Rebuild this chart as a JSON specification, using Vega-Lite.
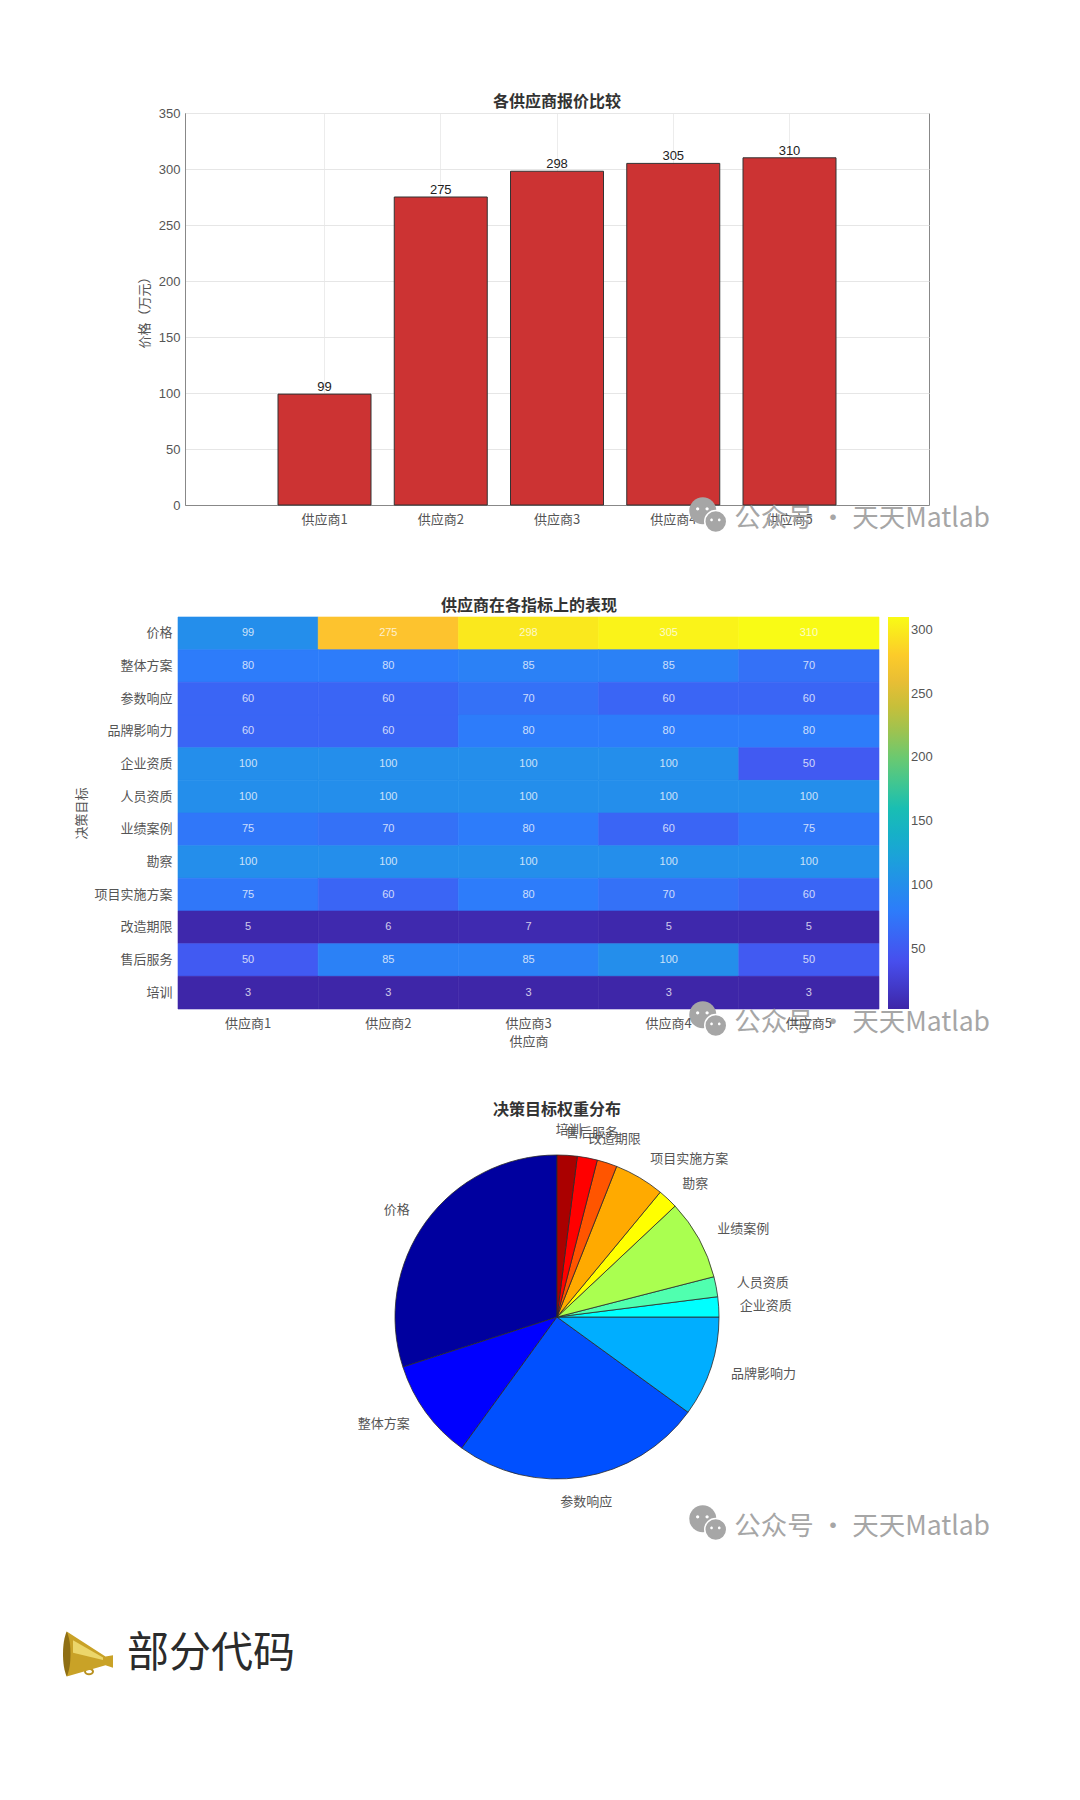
{
  "$schema": "https://vega.github.io/schema/vega-lite/v6.json",
  "background": "white",
  "autosize": {"type": "pad"},
  "padding": {"left": 63, "top": 93, "right": 0, "bottom": 20},
  "config": {
    "font": "Noto Sans CJK SC",
    "view": {"stroke": null},
    "title": {"fontSize": 16, "fontWeight": "bold", "color": "#333", "offset": 3, "anchor": "middle"},
    "axis": {"labelFontSize": 13, "labelColor": "#555", "titleFontSize": 13, "titleColor": "#555", "titleFontWeight": "normal", "tickColor": "#555", "domainColor": "#888"}
  },
  "datasets": {
    "quotes": [
      {"supplier": "供应商1", "price": 99},
      {"supplier": "供应商2", "price": 275},
      {"supplier": "供应商3", "price": 298},
      {"supplier": "供应商4", "price": 305},
      {"supplier": "供应商5", "price": 310}
    ],
    "scores": [
      {"goal": "价格", "supplier": "供应商1", "score": 99},
      {"goal": "价格", "supplier": "供应商2", "score": 275},
      {"goal": "价格", "supplier": "供应商3", "score": 298},
      {"goal": "价格", "supplier": "供应商4", "score": 305},
      {"goal": "价格", "supplier": "供应商5", "score": 310},
      {"goal": "整体方案", "supplier": "供应商1", "score": 80},
      {"goal": "整体方案", "supplier": "供应商2", "score": 80},
      {"goal": "整体方案", "supplier": "供应商3", "score": 85},
      {"goal": "整体方案", "supplier": "供应商4", "score": 85},
      {"goal": "整体方案", "supplier": "供应商5", "score": 70},
      {"goal": "参数响应", "supplier": "供应商1", "score": 60},
      {"goal": "参数响应", "supplier": "供应商2", "score": 60},
      {"goal": "参数响应", "supplier": "供应商3", "score": 70},
      {"goal": "参数响应", "supplier": "供应商4", "score": 60},
      {"goal": "参数响应", "supplier": "供应商5", "score": 60},
      {"goal": "品牌影响力", "supplier": "供应商1", "score": 60},
      {"goal": "品牌影响力", "supplier": "供应商2", "score": 60},
      {"goal": "品牌影响力", "supplier": "供应商3", "score": 80},
      {"goal": "品牌影响力", "supplier": "供应商4", "score": 80},
      {"goal": "品牌影响力", "supplier": "供应商5", "score": 80},
      {"goal": "企业资质", "supplier": "供应商1", "score": 100},
      {"goal": "企业资质", "supplier": "供应商2", "score": 100},
      {"goal": "企业资质", "supplier": "供应商3", "score": 100},
      {"goal": "企业资质", "supplier": "供应商4", "score": 100},
      {"goal": "企业资质", "supplier": "供应商5", "score": 50},
      {"goal": "人员资质", "supplier": "供应商1", "score": 100},
      {"goal": "人员资质", "supplier": "供应商2", "score": 100},
      {"goal": "人员资质", "supplier": "供应商3", "score": 100},
      {"goal": "人员资质", "supplier": "供应商4", "score": 100},
      {"goal": "人员资质", "supplier": "供应商5", "score": 100},
      {"goal": "业绩案例", "supplier": "供应商1", "score": 75},
      {"goal": "业绩案例", "supplier": "供应商2", "score": 70},
      {"goal": "业绩案例", "supplier": "供应商3", "score": 80},
      {"goal": "业绩案例", "supplier": "供应商4", "score": 60},
      {"goal": "业绩案例", "supplier": "供应商5", "score": 75},
      {"goal": "勘察", "supplier": "供应商1", "score": 100},
      {"goal": "勘察", "supplier": "供应商2", "score": 100},
      {"goal": "勘察", "supplier": "供应商3", "score": 100},
      {"goal": "勘察", "supplier": "供应商4", "score": 100},
      {"goal": "勘察", "supplier": "供应商5", "score": 100},
      {"goal": "项目实施方案", "supplier": "供应商1", "score": 75},
      {"goal": "项目实施方案", "supplier": "供应商2", "score": 60},
      {"goal": "项目实施方案", "supplier": "供应商3", "score": 80},
      {"goal": "项目实施方案", "supplier": "供应商4", "score": 70},
      {"goal": "项目实施方案", "supplier": "供应商5", "score": 60},
      {"goal": "改造期限", "supplier": "供应商1", "score": 5},
      {"goal": "改造期限", "supplier": "供应商2", "score": 6},
      {"goal": "改造期限", "supplier": "供应商3", "score": 7},
      {"goal": "改造期限", "supplier": "供应商4", "score": 5},
      {"goal": "改造期限", "supplier": "供应商5", "score": 5},
      {"goal": "售后服务", "supplier": "供应商1", "score": 50},
      {"goal": "售后服务", "supplier": "供应商2", "score": 85},
      {"goal": "售后服务", "supplier": "供应商3", "score": 85},
      {"goal": "售后服务", "supplier": "供应商4", "score": 100},
      {"goal": "售后服务", "supplier": "供应商5", "score": 50},
      {"goal": "培训", "supplier": "供应商1", "score": 3},
      {"goal": "培训", "supplier": "供应商2", "score": 3},
      {"goal": "培训", "supplier": "供应商3", "score": 3},
      {"goal": "培训", "supplier": "供应商4", "score": 3},
      {"goal": "培训", "supplier": "供应商5", "score": 3}
    ],
    "weights": [
      {"rank": 1, "goal": "价格", "weight": 30, "side": "left"},
      {"rank": 2, "goal": "整体方案", "weight": 10, "side": "left"},
      {"rank": 3, "goal": "参数响应", "weight": 25, "side": "center"},
      {"rank": 4, "goal": "品牌影响力", "weight": 10, "side": "right"},
      {"rank": 5, "goal": "企业资质", "weight": 2, "side": "right"},
      {"rank": 6, "goal": "人员资质", "weight": 2, "side": "right"},
      {"rank": 7, "goal": "业绩案例", "weight": 8, "side": "right"},
      {"rank": 8, "goal": "勘察", "weight": 2, "side": "right"},
      {"rank": 9, "goal": "项目实施方案", "weight": 5, "side": "right"},
      {"rank": 10, "goal": "改造期限", "weight": 2, "side": "center"},
      {"rank": 11, "goal": "售后服务", "weight": 2, "side": "center"},
      {"rank": 12, "goal": "培训", "weight": 2, "side": "center"}
    ],
    "mark": [{"label": "公众号 · 天天Matlab"}],
    "heading": [{"label": "部分代码"}]
  },
  "vconcat": [
    {
      "title": {"text": "各供应商报价比较", "offset": -3},
      "width": 744,
      "height": 392,
      "view": {"stroke": "#888"},
      "layer": [
        {
          "data": {"name": "quotes"},
          "encoding": {
            "x": {
              "field": "supplier", "type": "nominal", "title": null,
              "scale": {"paddingInner": 0.2, "paddingOuter": 0.8},
              "axis": {"labelAngle": 0, "grid": true, "gridColor": "#ececec", "tickSize": 0, "labelPadding": 8, "domain": true}
            },
            "y": {
              "field": "price", "type": "quantitative", "title": "价格（万元）",
              "scale": {"domain": [0, 350]},
              "axis": {"values": [0, 50, 100, 150, 200, 250, 300, 350], "grid": true, "gridColor": "#e6e6e6", "tickSize": 0, "labelPadding": 5, "titlePadding": 7, "labelFont": "Liberation Sans"}
            }
          },
          "layer": [
            {"mark": {"type": "bar", "color": "#cc3333", "stroke": "#333333", "strokeWidth": 1}},
            {
              "mark": {"type": "text", "baseline": "bottom", "dy": 0, "fontSize": 13, "color": "#222", "font": "Liberation Sans"},
              "encoding": {"text": {"field": "price", "type": "quantitative"}}
            }
          ]
        },
        {
          "data": {"name": "mark"},
          "layer": [
            {"mark": {"type": "circle", "color": "#a6a6a6", "size": 729, "opacity": 1},
             "encoding": {"x": {"datum": 559, "type": "quantitative", "scale": {"domain": [0, 741], "range": [0, 741]}, "axis": null}, "y": {"datum": 408, "type": "quantitative", "scale": {"domain": [0, 390], "range": [0, 390]}, "axis": null}}},
            {"mark": {"type": "point", "filled": true, "color": "white", "opacity": 1, "size": 729, "shape": "M-0.5,-0.15 a0.12,0.12 0 1,0 0.24,0 a0.12,0.12 0 1,0 -0.24,0 Z M0.2,-0.15 a0.12,0.12 0 1,0 0.24,0 a0.12,0.12 0 1,0 -0.24,0 Z"},
             "encoding": {"x": {"datum": 559, "type": "quantitative"}, "y": {"datum": 408, "type": "quantitative"}}},
            {"mark": {"type": "circle", "color": "#a6a6a6", "stroke": "white", "strokeWidth": 1.5, "size": 484, "opacity": 1},
             "encoding": {"x": {"datum": 573, "type": "quantitative"}, "y": {"datum": 419, "type": "quantitative"}}},
            {"mark": {"type": "point", "filled": true, "color": "white", "opacity": 1, "size": 484, "shape": "M-0.5,-0.15 a0.12,0.12 0 1,0 0.24,0 a0.12,0.12 0 1,0 -0.24,0 Z M0.2,-0.15 a0.12,0.12 0 1,0 0.24,0 a0.12,0.12 0 1,0 -0.24,0 Z"},
             "encoding": {"x": {"datum": 573, "type": "quantitative"}, "y": {"datum": 419, "type": "quantitative"}}},
            {"mark": {"type": "text", "align": "left", "fontSize": 26.5, "color": "#a6a6a6"},
             "encoding": {"x": {"datum": 593, "type": "quantitative"}, "y": {"datum": 416, "type": "quantitative"}, "text": {"field": "label", "type": "nominal"}}}
          ]
        }
      ],
      "resolve": {"scale": {"x": "independent", "y": "independent"}}
    },
    {
      "title": {"text": "供应商在各指标上的表现", "dx": -3},
      "width": 694,
      "height": 392,
      "layer": [
        {
          "data": {"name": "scores"},
          "encoding": {
            "x": {
              "field": "supplier", "type": "nominal", "title": "供应商",
              "scale": {"range": [-7, 694], "paddingInner": 0, "paddingOuter": 0},
              "axis": {"labelAngle": 0, "tickSize": 0, "domain": false, "labelPadding": 8, "titlePadding": 5}
            },
            "y": {
              "field": "goal", "type": "nominal", "title": "决策目标",
              "sort": ["价格", "整体方案", "参数响应", "品牌影响力", "企业资质", "人员资质", "业绩案例", "勘察", "项目实施方案", "改造期限", "售后服务", "培训"],
              "axis": {"offset": 7, "tickSize": 0, "domain": false, "labelPadding": 6, "titlePadding": 5}
            }
          },
          "layer": [
            {
              "mark": {"type": "rect", "strokeWidth": 0.6},
              "encoding": {
                "color": {
                  "field": "score", "type": "quantitative",
                  "scale": {
                    "interpolate": "rgb",
                    "domain": [3, 41.375, 79.75, 118.125, 156.5, 194.875, 233.25, 271.625, 310],
                    "range": ["#3e26a8", "#4750f0", "#2d7cfa", "#1c9fdd", "#12bdb9", "#5fcb78", "#bcbf3c", "#fdbe30", "#f9fb15"]
                  },
                  "legend": {
                    "title": null, "orient": "right", "offset": 9,
                    "gradientLength": 392, "gradientThickness": 21,
                    "values": [50, 100, 150, 200, 250, 300],
                    "labelFontSize": 13, "labelColor": "#555", "labelFont": "Liberation Sans"
                  }
                },
                "stroke": {
                  "field": "score", "type": "quantitative", "legend": null,
                  "scale": {
                    "interpolate": "rgb",
                    "domain": [3, 41.375, 79.75, 118.125, 156.5, 194.875, 233.25, 271.625, 310],
                    "range": ["#3e26a8", "#4750f0", "#2d7cfa", "#1c9fdd", "#12bdb9", "#5fcb78", "#bcbf3c", "#fdbe30", "#f9fb15"]
                  }
                }
              }
            },
            {
              "mark": {"type": "text", "fontSize": 11, "color": "white", "opacity": 0.75, "font": "Liberation Sans"},
              "encoding": {"text": {"field": "score", "type": "quantitative"}}
            }
          ]
        },
        {
          "data": {"name": "mark"},
          "layer": [
            {"mark": {"type": "circle", "color": "#a6a6a6", "size": 729, "opacity": 1},
             "encoding": {"x": {"datum": 559, "type": "quantitative", "scale": {"domain": [0, 741], "range": [0, 741]}, "axis": null}, "y": {"datum": 408, "type": "quantitative", "scale": {"domain": [0, 390], "range": [0, 390]}, "axis": null}}},
            {"mark": {"type": "point", "filled": true, "color": "white", "opacity": 1, "size": 729, "shape": "M-0.5,-0.15 a0.12,0.12 0 1,0 0.24,0 a0.12,0.12 0 1,0 -0.24,0 Z M0.2,-0.15 a0.12,0.12 0 1,0 0.24,0 a0.12,0.12 0 1,0 -0.24,0 Z"},
             "encoding": {"x": {"datum": 559, "type": "quantitative"}, "y": {"datum": 408, "type": "quantitative"}}},
            {"mark": {"type": "circle", "color": "#a6a6a6", "stroke": "white", "strokeWidth": 1.5, "size": 484, "opacity": 1},
             "encoding": {"x": {"datum": 573, "type": "quantitative"}, "y": {"datum": 419, "type": "quantitative"}}},
            {"mark": {"type": "point", "filled": true, "color": "white", "opacity": 1, "size": 484, "shape": "M-0.5,-0.15 a0.12,0.12 0 1,0 0.24,0 a0.12,0.12 0 1,0 -0.24,0 Z M0.2,-0.15 a0.12,0.12 0 1,0 0.24,0 a0.12,0.12 0 1,0 -0.24,0 Z"},
             "encoding": {"x": {"datum": 573, "type": "quantitative"}, "y": {"datum": 419, "type": "quantitative"}}},
            {"mark": {"type": "text", "align": "left", "fontSize": 26.5, "color": "#a6a6a6"},
             "encoding": {"x": {"datum": 593, "type": "quantitative"}, "y": {"datum": 416, "type": "quantitative"}, "text": {"field": "label", "type": "nominal"}}}
          ]
        }
      ],
      "resolve": {"scale": {"x": "independent", "y": "independent", "stroke": "independent"}}
    },
    {
      "title": "决策目标权重分布",
      "width": 744,
      "height": 392,
      "layer": [
        {
          "data": {"name": "weights"},
          "encoding": {
            "theta": {"field": "weight", "type": "quantitative", "stack": true, "scale": {"range": [6.2832, 0]}},
            "order": {"field": "rank", "type": "ordinal"},
            "detail": {"field": "goal", "type": "nominal"}
          },
          "layer": [
            {
              "mark": {"type": "arc", "radius": 162, "stroke": "#2a2a2a", "strokeWidth": 0.8},
              "encoding": {
                "color": {
                  "field": "goal", "type": "nominal", "legend": null,
                  "scale": {
                    "domain": ["价格", "整体方案", "参数响应", "品牌影响力", "企业资质", "人员资质", "业绩案例", "勘察", "项目实施方案", "改造期限", "售后服务", "培训"],
                    "range": ["#00009f", "#0000ff", "#0050ff", "#00aeff", "#00ffff", "#50ffaf", "#aaff50", "#ffff00", "#ffaa00", "#ff5500", "#ff0000", "#aa0000"]
                  }
                }
              }
            },
            {
              "mark": {"type": "text", "radius": 183, "align": "left", "fontSize": 13, "color": "#555"},
              "encoding": {"text": {"condition": {"test": "datum.side === 'right'", "field": "goal"}, "value": ""}}
            },
            {
              "mark": {"type": "text", "radius": 182, "align": "right", "fontSize": 13, "color": "#555"},
              "encoding": {"text": {"condition": {"test": "datum.side === 'left'", "field": "goal"}, "value": ""}}
            },
            {
              "mark": {"type": "text", "radius": 187, "align": "center", "fontSize": 13, "color": "#555"},
              "encoding": {"text": {"condition": {"test": "datum.side === 'center'", "field": "goal"}, "value": ""}}
            }
          ]
        },
        {
          "data": {"name": "mark"},
          "layer": [
            {"mark": {"type": "circle", "color": "#a6a6a6", "size": 729, "opacity": 1},
             "encoding": {"x": {"datum": 559, "type": "quantitative", "scale": {"domain": [0, 741], "range": [0, 741]}, "axis": null}, "y": {"datum": 408, "type": "quantitative", "scale": {"domain": [0, 390], "range": [0, 390]}, "axis": null}}},
            {"mark": {"type": "point", "filled": true, "color": "white", "opacity": 1, "size": 729, "shape": "M-0.5,-0.15 a0.12,0.12 0 1,0 0.24,0 a0.12,0.12 0 1,0 -0.24,0 Z M0.2,-0.15 a0.12,0.12 0 1,0 0.24,0 a0.12,0.12 0 1,0 -0.24,0 Z"},
             "encoding": {"x": {"datum": 559, "type": "quantitative"}, "y": {"datum": 408, "type": "quantitative"}}},
            {"mark": {"type": "circle", "color": "#a6a6a6", "stroke": "white", "strokeWidth": 1.5, "size": 484, "opacity": 1},
             "encoding": {"x": {"datum": 573, "type": "quantitative"}, "y": {"datum": 419, "type": "quantitative"}}},
            {"mark": {"type": "point", "filled": true, "color": "white", "opacity": 1, "size": 484, "shape": "M-0.5,-0.15 a0.12,0.12 0 1,0 0.24,0 a0.12,0.12 0 1,0 -0.24,0 Z M0.2,-0.15 a0.12,0.12 0 1,0 0.24,0 a0.12,0.12 0 1,0 -0.24,0 Z"},
             "encoding": {"x": {"datum": 573, "type": "quantitative"}, "y": {"datum": 419, "type": "quantitative"}}},
            {"mark": {"type": "text", "align": "left", "fontSize": 26.5, "color": "#a6a6a6"},
             "encoding": {"x": {"datum": 593, "type": "quantitative"}, "y": {"datum": 416, "type": "quantitative"}, "text": {"field": "label", "type": "nominal"}}}
          ]
        }
      ],
      "resolve": {"scale": {"x": "independent", "y": "independent", "theta": "independent"}}
    },
    {
      "width": 741,
      "height": 50,
      "data": {"name": "heading"},
      "encoding": {
        "x": {"datum": -97, "type": "quantitative", "scale": {"domain": [0, 741], "range": [0, 741]}, "axis": null},
        "y": {"datum": 29, "type": "quantitative", "scale": {"domain": [0, 50], "range": [0, 50]}, "axis": null}
      },
      "layer": [
        {"mark": {"type": "point", "filled": false, "opacity": 1, "size": 2500, "color": "#b8901f", "strokeWidth": 2, "shape": "M-0.12,0.7 a0.16,0.11 0 1,0 0.32,0 a0.16,0.11 0 1,0 -0.32,0"}},
        {"mark": {"type": "point", "filled": true, "opacity": 1, "size": 2500, "color": "#c9a227", "shape": "M-0.85,-0.9 L0.7,0.1 L1,0.05 L1,0.55 L0.7,0.45 L-0.85,0.9 Z"}},
        {"mark": {"type": "point", "filled": true, "opacity": 1, "size": 2500, "color": "#ecd66a", "shape": "M-0.6,-0.55 L0.6,0.14 L0.6,0.24 L-0.6,-0.05 Z"}},
        {"mark": {"type": "point", "filled": true, "opacity": 1, "size": 2500, "color": "#8f6f14", "shape": "M-0.85,-0.9 C-1.05,-0.5 -1.05,0.5 -0.85,0.9 C-0.65,0.5 -0.65,-0.5 -0.85,-0.9 Z"}},
        {
          "mark": {"type": "text", "align": "left", "fontSize": 42, "color": "#2b2b2b"},
          "encoding": {"x": {"datum": -58, "type": "quantitative"}, "text": {"field": "label", "type": "nominal"}}
        }
      ]
    }
  ],
  "spacing": 112,
  "bounds": "flush"
}
